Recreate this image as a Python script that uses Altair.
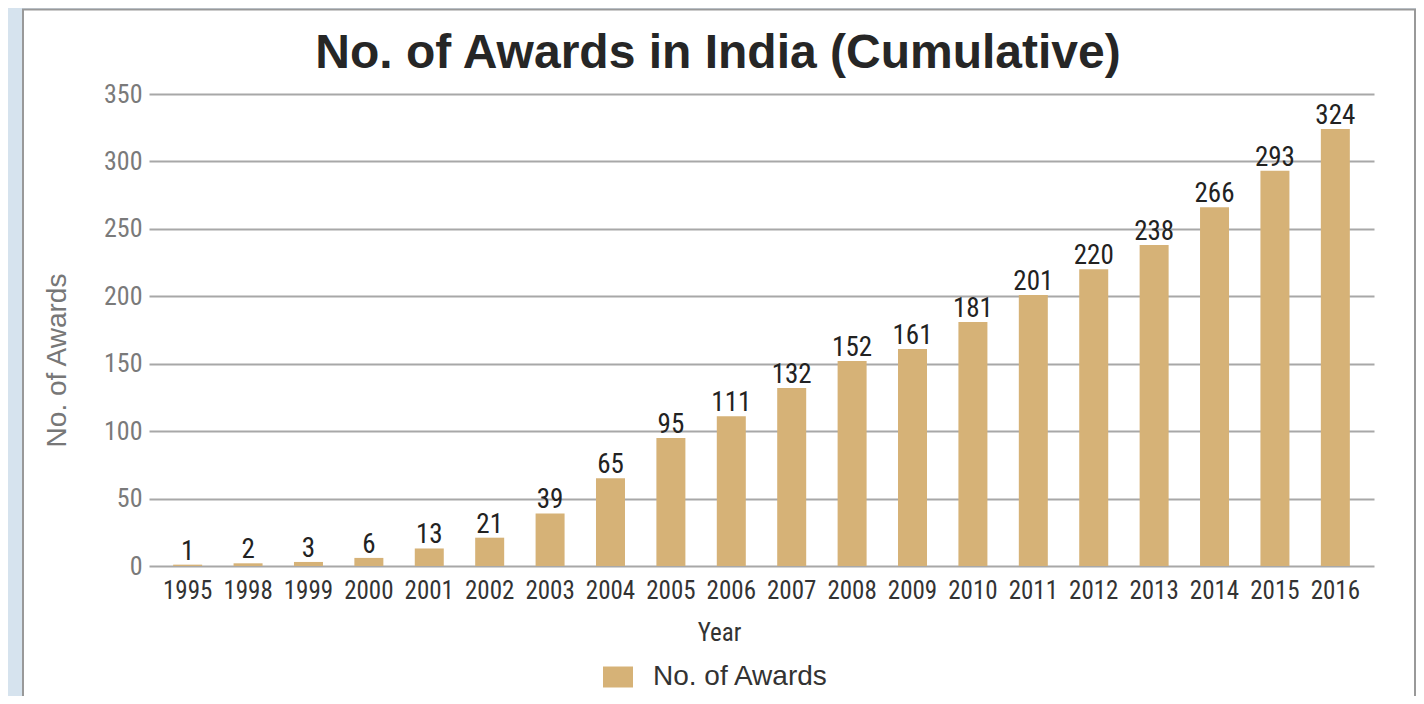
import altair as alt
import pandas as pd

years = ["1995", "1998", "1999", "2000", "2001", "2002", "2003", "2004", "2005", "2006",
         "2007", "2008", "2009", "2010", "2011", "2012", "2013", "2014", "2015", "2016"]
awards = [1, 2, 3, 6, 13, 21, 39, 65, 95, 111, 132, 152, 161, 181, 201, 220, 238, 266, 293, 324]
y_ticks = [0, 50, 100, 150, 200, 250, 300, 350]
series_name = "No. of Awards"
title_text = "No. of Awards in India (Cumulative)"

df = pd.DataFrame({"Year": years, "Awards": awards, "series": [series_name] * len(years)})

BAR = "#d6b277"
NARROW = "Liberation Sans Narrow, Roboto Condensed, Liberation Sans, Arial"
REG = "Liberation Sans, Arial, Helvetica"

W, H = 1225, 472

x_enc = alt.X("Year:N", sort=years,
              scale=alt.Scale(paddingInner=0.52, paddingOuter=0.4),
              axis=alt.Axis(title="Year", labelAngle=0, labelFont=NARROW, labelFontSize=25,
                            labelColor="#333333", labelPadding=12, ticks=False, domain=False,
                            titleFont=NARROW, titleFontSize=25, titleFontWeight="normal",
                            titleColor="#333333", titleX=570, titleY=74,
                            titleBaseline="alphabetic", titleAlign="center"))
y_enc = alt.Y("Awards:Q", scale=alt.Scale(domain=[0, 350], nice=False),
              axis=alt.Axis(title="No. of Awards", values=y_ticks, labelFont=NARROW,
                            labelFontSize=26, labelColor="#7a7a7a", labelPadding=7,
                            ticks=False, domain=False, gridColor="#a8a8a8", gridWidth=1.8,
                            titleFont=REG, titleFontSize=28, titleFontWeight="normal",
                            titleColor="#777777", titleAngle=-90, titleX=-84, titleY=266,
                            titleBaseline="alphabetic", titleAlign="center"))

bars = alt.Chart(df).mark_bar(size=29).encode(
    x=x_enc,
    y=y_enc,
    color=alt.Color("series:N",
                    scale=alt.Scale(domain=[series_name], range=[BAR]),
                    legend=alt.Legend(title=None, orient="none", legendX=454, legendY=568,
                                      symbolType="M-1,-0.7H1V0.7H-1Z", symbolSize=900,
                                      symbolStrokeWidth=0, labelFont=REG, labelFontSize=28,
                                      labelColor="#333333", labelOffset=20, padding=0,
                                      labelLimit=500)),
)

labels = alt.Chart(df).mark_text(baseline="alphabetic", dy=-5, font=NARROW, fontSize=27,
                                 color="#222222").encode(
    x=alt.X("Year:N", sort=years),
    y=alt.Y("Awards:Q"),
    text=alt.Text("Awards:Q"),
)

one = pd.DataFrame({"k": [0]})
blue_frame = alt.Chart(one).mark_rect(filled=False, stroke="#d6e3ee", strokeWidth=28).encode(
    x=alt.value(-141), x2=alt.value(1281), y=alt.value(-99), y2=alt.value(800))
grey_frame = alt.Chart(one).mark_rect(filled=False, stroke="#999999", strokeWidth=2).encode(
    x=alt.value(-126), x2=alt.value(1266), y=alt.value(-84.5), y2=alt.value(800))
title = alt.Chart(one).mark_text(text=title_text, font=REG, fontSize=48, fontWeight="bold",
                                 color="#262626", align="center", baseline="alphabetic").encode(
    x=alt.value(569), y=alt.value(-26))

chart = alt.layer(bars, labels, blue_frame, grey_frame, title).properties(
    width=W, height=H,
    padding={"left": 141, "top": 86, "right": 42, "bottom": 130},
    autosize=alt.AutoSizeParams(type="none"),
    background="white",
).configure_view(stroke=None)

chart.save("out.html", embed_options={"renderer": "svg", "actions": False})
